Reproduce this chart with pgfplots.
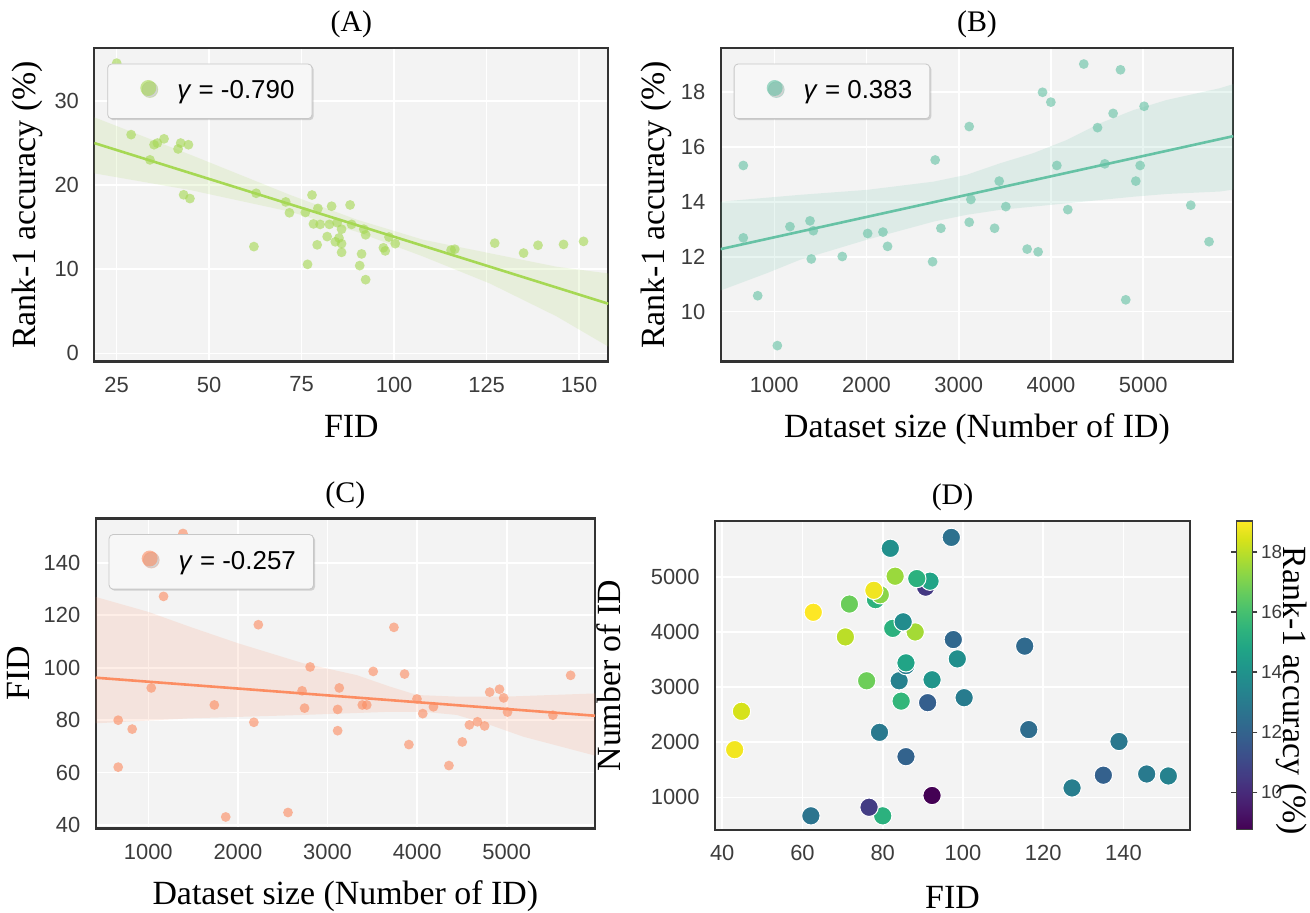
\documentclass[border=0pt]{standalone}
\usepackage{fontspec}
\setmainfont{Liberation Serif}
\newfontfamily\sans{Liberation Sans}
\usepackage{pgfplots}
\pgfplotsset{compat=1.18}
\usepackage{pgfplotstable}
\usetikzlibrary{shadows}

\definecolor{ga}{HTML}{A6D854}
\definecolor{gb}{HTML}{66C2A5}
\definecolor{gc}{HTML}{FC8D62}
\definecolor{bg}{HTML}{F3F3F3}
\definecolor{tick}{HTML}{3C3C3C}

% N = dataset size, FID, acc = rank-1 accuracy
\pgfplotstableread{
N FID acc
664 80.0 15.33
664 62.1 12.69
820 76.6 10.58
1033 92.3 8.76
1170 127.2 13.10
1387 151.2 13.31
1423 145.8 12.95
1401 135.0 11.92
1737 85.8 12.01
1864 43.1 18.85
2012 138.9 12.85
2178 79.2 12.90
2228 116.4 12.38
2559 44.8 18.40
2716 91.2 11.82
2744 84.6 15.53
2806 100.3 13.04
3113 76.0 16.75
3131 92.3 14.09
3113 84.1 13.26
3388 85.8 13.04
3438 85.8 14.76
3510 98.6 13.83
3741 115.4 12.28
3860 97.6 12.18
3908 70.7 18.00
3998 88.1 17.64
4063 82.5 15.33
4182 85.1 13.72
4355 62.7 19.03
4504 71.7 16.71
4583 78.2 15.39
4673 79.4 17.23
4753 77.8 18.82
4810 90.7 10.43
4919 91.8 14.76
4966 88.5 15.33
5009 83.1 17.49
5515 81.9 13.88
5713 97.1 12.55
}\master

% extra points only in panel A
\pgfplotstableread{
FID acc
25.0 34.5
28.9 26.0
35.1 24.8
36.0 25.0
37.8 25.5
34.0 23.0
42.3 25.0
41.6 24.3
44.4 24.8
}\extra

\pgfplotsset{
  panel/.style={
    scale only axis,
    axis background/.style={fill=bg},
    axis line style={black!80, line width=1.1bp},
    grid=major, major grid style={white, line width=0.8bp},
    major tick length=0pt,
    scaled ticks=false,
    tick label style={font=\sans\fontsize{11}{13}\selectfont, text=tick, inner sep=0pt},
    xticklabel shift=7.5bp, yticklabel shift=7.5bp,
    /pgf/number format/assume math mode=true,
    /pgf/number format/1000 sep={},
    label style={font=\fontsize{17}{20}\selectfont},
    xlabel style={at={(axis description cs:0.5,0)}, anchor=base, yshift=-38bp},
    every axis title shift=0pt,
    title style={font=\fontsize{15}{18}\selectfont, at={(axis description cs:0.5,1)}, anchor=base, yshift=8.2bp},
    legend style={at={(0,1)}, anchor=north west, xshift=6.5bp, yshift=-7.8bp,
      fill=white!97!black, draw=black!22, rounded corners=2bp,
      drop shadow={shadow xshift=0.8bp, shadow yshift=-0.8bp, opacity=0.3},
      inner xsep=8.8bp, inner ysep=8bp, nodes={inner sep=0pt, text depth=0.2em},
      font=\sans\fontsize{13}{15}\selectfont},
  },
  dots/.style={only marks, mark=*, mark size=2.45bp, color=#1,
    mark options={draw opacity=0, fill=#1, fill opacity=0.62, line width=0pt}},
  dotlegend/.style={legend image code/.code={%
    \path[draw=none] (-11.5bp,0) (14.5bp,0);
    \fill[draw=none, fill=#1, fill opacity=0.6] (0,1.8bp) circle (4bp);}},
}

\begin{document}
\begin{tikzpicture}
\useasboundingbox (0,0) rectangle (655bp,-456.5bp);

% (A)
\begin{axis}[panel, at={(47.15bp,-24bp)}, anchor=north west,
  width=257bp, height=156.75bp,
  xmin=18.95, xmax=157.9, ymin=-0.97, ymax=36.3,
  xtick={25,50,...,150}, ytick={0,10,20,30},
  title={(A)}, xlabel={FID}, ylabel={Rank-1 accuracy (\%)},
  ylabel style={at={(axis description cs:-0.114,0.5)}, anchor=base},
  dotlegend=ga]
\addplot[fill=ga, fill opacity=0.15, draw=none, forget plot] coordinates {
  (18.95,28.06) (45,23.6) (71.8,18.85) (89.9,15.9) (107.9,13.5) (125.9,11.9) (143.9,10.3) (157.9,9.5)
  (157.9,0.8) (143.9,4.4) (125.9,8.3) (107.9,11.5) (89.9,14.45) (71.8,16.85) (45,19.4) (18.95,21.4)} -- cycle;
\addplot[dots=ga] table[x=FID, y=acc] {\master};
\addlegendentry{\textit{γ} = -0.790}
\addplot[dots=ga, forget plot] table[x=FID, y=acc] {\extra};
\addplot[ga, line width=1.3bp, forget plot] coordinates {(18.95,25.0) (157.9,5.9)};
\end{axis}

% (B)
\begin{axis}[panel, at={(360.35bp,-24bp)}, anchor=north west,
  width=256.3bp, height=156.75bp,
  xmin=419, xmax=5976, ymin=8.18, ymax=19.615,
  xtick={1000,2000,...,5000}, ytick={10,12,...,18},
  title={(B)}, xlabel={Dataset size (Number of ID)}, ylabel={Rank-1 accuracy (\%)},
  ylabel style={at={(axis description cs:-0.11,0.5)}, anchor=base},
  dotlegend=gb]
\addplot[fill=gb, fill opacity=0.15, draw=none, forget plot] coordinates {
  (419,14.01) (1279,14.26) (2002,14.44) (2724,14.74) (3085,14.99) (3447,15.41) (3808,15.78) (4170,16.26)
  (4531,16.87) (4892,17.35) (5254,17.72) (5832,18.15) (5976,18.3)
  (5976,14.45) (5832,14.38) (5254,14.29) (4892,14.19) (4531,14.07) (4170,13.95) (3808,13.83) (3447,13.71)
  (3085,13.53) (2724,13.28) (2002,12.62) (1279,11.89) (918,11.40) (419,10.77)} -- cycle;
\addplot[dots=gb] table[x=N, y=acc] {\master};
\addlegendentry{\textit{γ} = 0.383}
\addplot[gb, line width=1.3bp, forget plot] coordinates {(419,12.28) (5976,16.40)};
\end{axis}

% (C)
\begin{axis}[panel, at={(47.85bp,-259.25bp)}, anchor=north west,
  width=249.65bp, height=155bp,
  xmin=413, xmax=5985, ymin=38.7, ymax=156.9,
  xtick={1000,2000,...,5000}, ytick={40,60,...,140},
  title={(C)}, xlabel={Dataset size (Number of ID)}, ylabel={FID},
  ylabel style={at={(axis description cs:-0.1317,0.5)}, anchor=base},
  dotlegend=gc]
\addplot[fill=gc, fill opacity=0.15, draw=none, forget plot] coordinates {
  (413,127.0) (1000,121.3) (1465,115.6) (2004,109.3) (2730,101.7) (3325,97.2) (3697,92.8) (4000,89.6)
  (4442,89.0) (5000,89.0) (5985,90.2)
  (5985,66.5) (5185,73.7) (4813,78.2) (4442,82.0) (4069,83.2) (3697,83.2) (2730,82.0) (1465,80.7) (413,78.8)} -- cycle;
\addplot[dots=gc] table[x=N, y=FID] {\master};
\addlegendentry{\textit{γ} = -0.257}
\addplot[gc, line width=1.3bp, forget plot] coordinates {(413,96.2) (5985,81.7)};
\end{axis}

% (D)
\begin{axis}[panel, at={(357.5bp,-260.5bp)}, anchor=north west,
  width=237.5bp, height=154.5bp,
  xmin=38.2, xmax=156.6, ymin=407, ymax=6010,
  xtick={40,60,...,140}, ytick={1000,2000,...,5000},
  title={(D)}, xlabel={FID}, ylabel={Number of ID},
  xlabel style={yshift=-1bp},
  ylabel style={at={(axis description cs:-0.2,0.5)}, anchor=base},
  colormap/viridis, point meta min=8.76, point meta max=19.03,
  colorbar,
  colorbar style={
    at={(parent axis.north east)}, anchor=north west, xshift=14.65bp,
    width=8bp, height=154.2bp,
    ytick={10,12,...,18},
    tick align=outside, major tick length=2.5bp,
    yticklabel style={font=\sans\fontsize{9.5}{11}\selectfont, text=tick, inner sep=0pt},
    yticklabel shift=1.7bp,
    /pgf/number format/assume math mode=true,
    axis line style={black!75, line width=0.6bp},
    every tick/.style={black!75, line width=0.6bp},
    ylabel={Rank-1 accuracy (\%)},
    ylabel style={font=\fontsize{17}{20}\selectfont, rotate=180, inner sep=0pt,
      at={(axis description cs:2.95,0.45)}, anchor=base},
  }]
\addplot[scatter, only marks, mark=*, mark size=4.6bp, scatter src=explicit,
  scatter/use mapped color={draw=white, fill=mapped color}, mark options={line width=0.5bp}]
  table[x=FID, y=N, meta=acc] {\master};
\end{axis}
\end{tikzpicture}
\end{document}
